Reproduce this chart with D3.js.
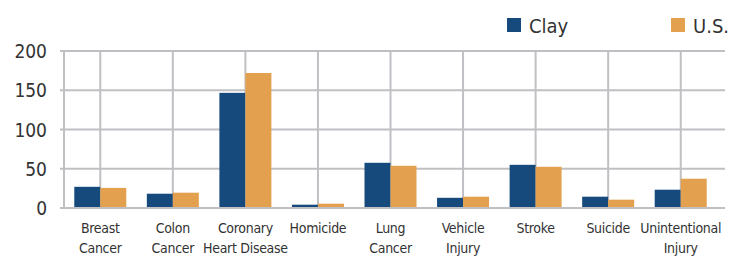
<!DOCTYPE html>
<html>
<head>
<meta charset="utf-8">
<script src="https://cdn.jsdelivr.net/npm/d3@7"></script>
<style>
body { margin: 0; background: #fff; }
text { font-family: "Liberation Sans Narrow", "DejaVu Sans Condensed", sans-serif; fill: #333; }
</style>
</head>
<body>
<script>
var categories = ["Breast Cancer", "Colon Cancer", "Coronary Heart Disease", "Homicide", "Lung Cancer",
                  "Vehicle Injury", "Stroke", "Suicide", "Unintentional Injury"];
var labelLines = [["Breast", "Cancer"], ["Colon", "Cancer"], ["Coronary", "Heart Disease"], ["Homicide"],
                  ["Lung", "Cancer"], ["Vehicle", "Injury"], ["Stroke"], ["Suicide"], ["Unintentional", "Injury"]];
var clay = [27, 18.2, 146.7, 4.2, 57.6, 13, 55, 14.4, 23.3];
var us   = [25.6, 19.5, 172, 5.5, 53.8, 14.4, 52.5, 10.6, 37.3];
var seriesNames = ["Clay", "U.S."];
var colors = ["#174a7c", "#e3a04f"];
var yTicks = [0, 50, 100, 150, 200];

var w = 741, h = 257;
var svg = d3.select("body").append("svg").attr("width", w).attr("height", h);

var mLeft = 64, mRight = 717, mTop = 51, mBottom = 208;
var x = d3.scaleBand().domain(categories).range([mLeft, mRight]);
var y = d3.scaleLinear().domain([0, 200]).range([mBottom, mTop]);
var grid = "#c0c0c4";

// horizontal grid
svg.selectAll("line.h").data(yTicks).enter().append("line")
   .attr("x1", 60).attr("x2", 725)
   .attr("y1", function(d) { return y(d); }).attr("y2", function(d) { return y(d); })
   .attr("stroke", grid).attr("stroke-width", 2);

// vertical grid through category centres, plus left edge
svg.append("line").attr("x1", mLeft).attr("x2", mLeft).attr("y1", mTop).attr("y2", mBottom)
   .attr("stroke", grid).attr("stroke-width", 2);
svg.selectAll("line.v").data(categories).enter().append("line")
   .attr("x1", function(d) { return x(d) + x.bandwidth() / 2; })
   .attr("x2", function(d) { return x(d) + x.bandwidth() / 2; })
   .attr("y1", mTop).attr("y2", mBottom)
   .attr("stroke", grid).attr("stroke-width", 2);

// bars
var barW = 26;
[clay, us].forEach(function(vals, s) {
  svg.selectAll("rect.s" + s).data(vals).enter().append("rect")
     .attr("x", function(d, i) { return x(categories[i]) + x.bandwidth() / 2 - barW + s * barW; })
     .attr("y", function(d) { return y(d); })
     .attr("width", barW)
     .attr("height", function(d) { return y(0) - y(d); })
     .attr("fill", colors[s]);
});

// redraw baseline on top
svg.append("line").attr("x1", 60).attr("x2", 725).attr("y1", y(0)).attr("y2", y(0))
   .attr("stroke", grid).attr("stroke-width", 2);

// y labels
svg.selectAll("text.y").data(yTicks).enter().append("text")
   .attr("x", 47).attr("y", function(d) { return y(d) + 7; })
   .attr("text-anchor", "end").style("font-size", "19px")
   .text(function(d) { return d; });

// x labels
labelLines.forEach(function(lines, i) {
  var t = svg.append("text").attr("text-anchor", "middle")
             .style("font-size", "14px").style("letter-spacing", "-0.3px");
  lines.forEach(function(l, j) {
    t.append("tspan").attr("x", x(categories[i]) + x.bandwidth() / 2)
     .attr("y", 233 + j * 20).text(l);
  });
});

// legend
var legX = [507, 671];
seriesNames.forEach(function(n, i) {
  svg.append("rect").attr("x", legX[i]).attr("y", 18).attr("width", 14).attr("height", 14).attr("fill", colors[i]);
  svg.append("text").attr("x", legX[i] + 22).attr("y", 33).style("font-size", "20px").text(n);
});
</script>
</body>
</html>
